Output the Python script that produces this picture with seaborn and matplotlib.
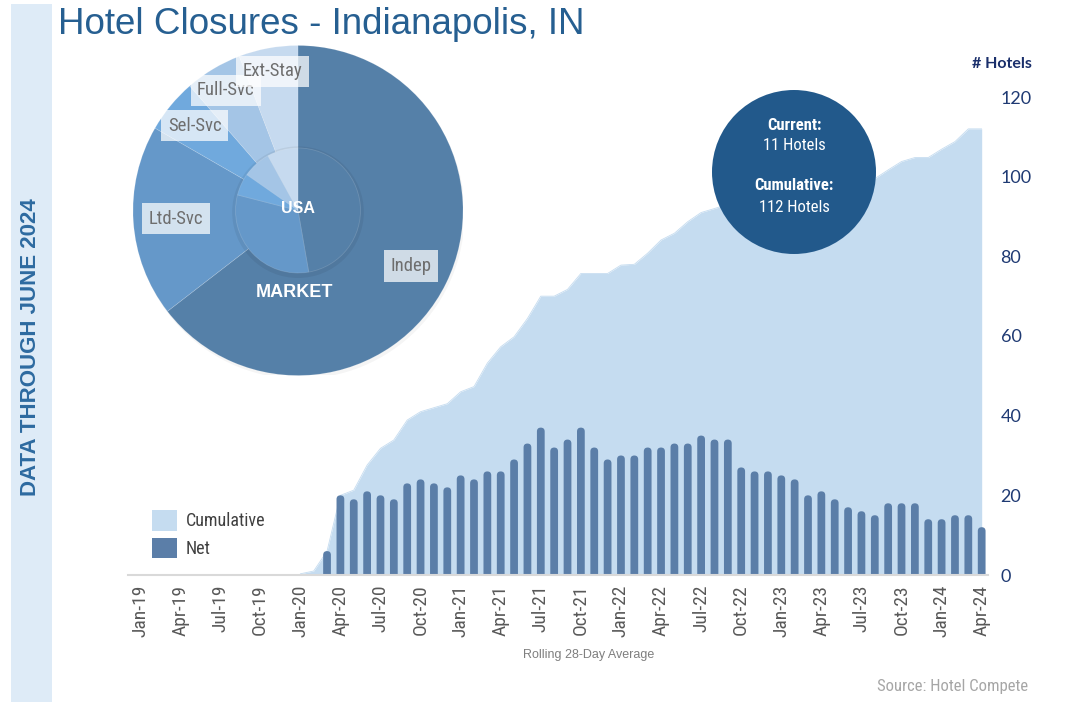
import numpy as np
import pandas as pd
import matplotlib
matplotlib.use("Agg")
import matplotlib.pyplot as plt
import seaborn as sns
from matplotlib.patches import FancyBboxPatch, Circle, Rectangle, Patch
from matplotlib import font_manager as fm

# ---------------- data ----------------
title = "Hotel Closures - Indianapolis, IN"
side_note = "DATA THROUGH JUNE 2024"
tick_labels = ["Jan-19", "Apr-19", "Jul-19", "Oct-19", "Jan-20", "Apr-20", "Jul-20", "Oct-20",
               "Jan-21", "Apr-21", "Jul-21", "Oct-21", "Jan-22", "Apr-22", "Jul-22", "Oct-22",
               "Jan-23", "Apr-23", "Jul-23", "Oct-23", "Jan-24", "Apr-24"]
y_ticks = [0, 20, 40, 60, 80, 100, 120]

net_start = "2020-03"
net_values = [6, 20, 19, 21, 20, 19, 23, 24, 23, 22,
              25, 24, 26, 26, 29, 33, 37, 32, 34, 37, 32, 29,
              30, 30, 32, 32, 33, 33, 35, 34, 34, 27, 26, 26,
              25, 24, 20, 21, 19, 17, 16, 15, 18, 18, 18, 14,
              14, 15, 15, 12]

cum_start = "2020-01"
cum_values = [0.3, 1.0, 6.0, 20.0, 21.3, 27.6, 31.8, 33.9, 38.9, 41.0, 42.0, 43.0,
              46.0, 47.3, 53.2, 57.3, 59.8, 64.4, 70.0, 70.0, 71.7, 75.7, 75.7, 75.7,
              77.8, 78.0, 80.8, 84.1, 85.8, 88.7, 91.0, 92.0, 93.0, 93.5, 94.0, 94.5,
              95.0, 95.5, 96.0, 96.5, 97.0, 97.5, 98.0, 99.5, 101.7, 103.8, 104.8, 104.8,
              106.9, 108.8, 112.0, 112.0]

segments = ["Indep", "Ltd-Svc", "Sel-Svc", "Full-Svc", "Ext-Stay"]
market_share = [64.6, 18.8, 5.3, 5.6, 5.8]
usa_share = [47.3, 31.8, 5.7, 7.3, 8.0]
current_hotels = 11
cumulative_hotels = 112

# ---------------- style ----------------
sns.set_style("white")
avail = {f.name for f in fm.fontManager.ttflist}
def pick(names):
    for n in names:
        if n in avail:
            return n
    return "DejaVu Sans"
narrow = pick(["Roboto Condensed", "Liberation Sans Narrow", "Roboto"])
arial = pick(["Liberation Sans", "Arial", "DejaVu Sans"])
calib = pick(["Lato", "Open Sans", "DejaVu Sans"])
plt.rcParams["font.family"] = [arial, "DejaVu Sans"]

C_AREA = "#c5dcf0"
C_BAR = "#5b7ea8"
pie_colors = ["#5580a8", "#6598c9", "#70a9dd", "#a4c5e6", "#c6daef"]

W, H = 1075, 704
fig = plt.figure(figsize=(W / 100, H / 100), dpi=100)

def box(x0, y0, x1, y1):
    return [x0 / W, 1 - y1 / H, (x1 - x0) / W, (y1 - y0) / H]

# left band
fig.patches.append(Rectangle((11 / W, 2 / H), 41 / W, 698 / H, transform=fig.transFigure,
                             facecolor="#deebf7", edgecolor="none", zorder=0))
fig.text(31 / W, 1 - 347 / H, side_note, rotation=90, ha="center", va="center",
         fontsize=16, fontweight="bold", color="#2d6aa0", family=arial)

# ---------------- main chart ----------------
def month_index(start, n):
    p = pd.period_range(start, periods=n, freq="M")
    return np.asarray((p.year - 2019) * 12 + p.month - 1, dtype=float)

net_idx = month_index(net_start, len(net_values))
cum_idx = month_index(cum_start, len(cum_values))
tick_idx = np.arange(len(tick_labels)) * 3

ax = fig.add_axes(box(128, 97, 988, 575))
ax.set_facecolor("none")
ax.fill_between(cum_idx, cum_values, 0, color=C_AREA, lw=0, zorder=1)
sns.lineplot(x=cum_idx, y=cum_values, color=C_AREA, lw=0.6, ax=ax, zorder=1)

df_net = pd.DataFrame({"m": net_idx, "net": net_values})
sns.barplot(data=df_net, x="m", y="net", native_scale=True, color=C_BAR, saturation=1,
            width=0.58, ax=ax, zorder=2)

ax.set_xlim((128 - 140) / 13.36, (988 - 140) / 13.36)
ax.set_ylim(0, 120)

# rounded bar tops
px_x = 13.36
px_y = (575 - 97) / 120
aspect = px_x / px_y
for p in list(ax.patches):
    x0, w, h = p.get_x(), p.get_width(), p.get_height()
    p.remove()
    fb = FancyBboxPatch((x0, -3), w, h + 3,
                        boxstyle=f"round,pad=0,rounding_size={w / 2}",
                        mutation_aspect=aspect, facecolor=C_BAR, edgecolor="none", zorder=2)
    ax.add_patch(fb)

for s in ["top", "left", "right"]:
    ax.spines[s].set_visible(False)
ax.spines["bottom"].set_color("#d9d9d9")
ax.spines["bottom"].set_linewidth(1.5)
ax.set_xticks(tick_idx)
ax.set_xticklabels(tick_labels, rotation=90, fontsize=14, color="#595959", family=narrow)
ax.tick_params(axis="x", direction="in", length=5, color="#d9d9d9", pad=7)
ax.yaxis.tick_right()
ax.set_yticks(y_ticks)
ax.set_yticklabels([str(v) for v in y_ticks], fontsize=13, color="#1f3a73", family=calib)
ax.tick_params(axis="y", length=0, pad=9)
ax.set_xlabel("")
ax.set_ylabel("")
ax.grid(False)

fig.text(1002 / W, 1 - 64 / H, "# Hotels", ha="center", va="center", fontsize=11.5,
         fontweight="bold", color="#1a2f6b", family=calib)

# legend
handles = [Patch(facecolor=C_AREA, edgecolor="none"), Patch(facecolor=C_BAR, edgecolor="none")]
fig.legend(handles, ["Cumulative", "Net"], loc="upper left",
           bbox_to_anchor=(136 / W, 1 - 494 / H), frameon=False,
           handlelength=1.35, handleheight=1.35, labelspacing=0.4, handletextpad=0.5,
           prop={"family": narrow, "size": 13}, labelcolor="#404040")

fig.text(589 / W, 1 - 655 / H, "Rolling 28-Day Average", ha="center", va="center",
         fontsize=9, color="#7f7f7f", family=arial)
fig.text(1028 / W, 1 - 686 / H, "Source: Hotel Compete", ha="right", va="center",
         fontsize=12, color="#a6a6a6", family=narrow)

# title
fig.text(58 / W, 1 - 25 / H, title, ha="left", va="center", fontsize=26.5,
         color="#265f91", family=arial)

# ---------------- pie ----------------
cx, cy, R = 298, 210.5, 165
axp = fig.add_axes(box(cx - R, cy - R, cx + R, cy + R))
axp.add_patch(Circle((0.01, -0.02), 1.0, facecolor="black", alpha=0.04, edgecolor="none", zorder=0))
wedges, _ = axp.pie(market_share, radius=1, startangle=90, counterclock=False,
                    colors=pie_colors,
                    wedgeprops=dict(linewidth=0.6, edgecolor=(1, 1, 1, 0.15), zorder=1))
r_in = 62.5 / R
axp.add_patch(Circle((0.0, -0.01), r_in + 0.02, facecolor="black", alpha=0.06,
                     edgecolor="none", zorder=1.5))
wedges_in, _ = axp.pie(usa_share, radius=r_in, startangle=90, counterclock=False,
                       colors=pie_colors,
                       wedgeprops=dict(linewidth=0.6, edgecolor=(1, 1, 1, 0.15), zorder=2))
axp.set_xlim(-1, 1)
axp.set_ylim(-1, 1)
axp.set_aspect("equal")
axp.axis("off")

label_r = [0.763, 0.74, 0.81, 0.85, 0.857]
for wdg, lab, r in zip(wedges, segments, label_r):
    ang = np.deg2rad((wdg.theta1 + wdg.theta2) / 2)
    axp.text(r * np.cos(ang), r * np.sin(ang), lab, ha="center", va="center",
             fontsize=13.5, color="#6e6e6e", family=narrow, zorder=5,
             bbox=dict(boxstyle="square,pad=0.35", facecolor=(1, 1, 1, 0.72), edgecolor="none"))
axp.text(0.0, 0.01, "USA", ha="center", va="center", fontsize=11.5, fontweight="bold",
         color="white", family=arial, zorder=5)
axp.text(-0.024, -0.494, "MARKET", ha="center", va="center", fontsize=13, fontweight="bold",
         color="white", family=arial, zorder=5)

# ---------------- info circle ----------------
ccx, ccy, cr = 794, 172, 82
axc = fig.add_axes(box(ccx - cr, ccy - cr, ccx + cr, ccy + cr))
axc.add_patch(Circle((0.5, 0.5), 0.5, facecolor="#22598b", edgecolor="none"))
axc.set_xlim(0, 1)
axc.set_ylim(0, 1)
axc.set_aspect("equal")
axc.axis("off")
for yy, txt, wt in [(125, "Current:", "bold"), (145, f"{current_hotels} Hotels", "normal"),
                    (186, "Cumulative:", "bold"), (208, f"{cumulative_hotels} Hotels", "normal")]:
    axc.text(0.5, 0.5 + (ccy - yy) / (2 * cr), txt, ha="center", va="center", fontsize=12,
             fontweight=wt, color="white", family=narrow)

fig.savefig("out.png", dpi=100)
